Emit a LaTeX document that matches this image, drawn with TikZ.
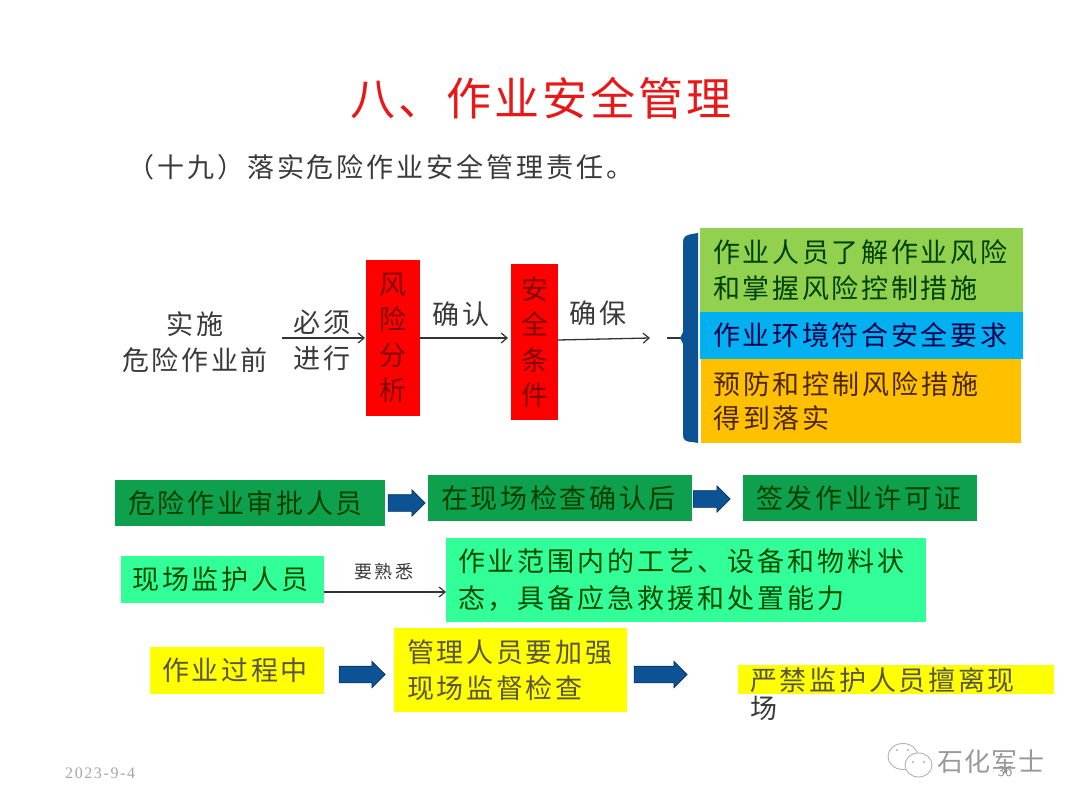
\documentclass[tikz,border=0pt]{standalone}
\usepackage{fontspec}
\usetikzlibrary{arrows.meta,shapes.arrows}
\setmainfont{Liberation Serif}
\newfontfamily\cjk{Noto Sans CJK SC}
\newcommand{\sz}[2]{\fontsize{#1}{#2}\selectfont\cjk}
\newcommand{\ls}[1]{\addfontfeature{LetterSpace=#1}}
\definecolor{txtgray}{HTML}{3A3A3A}
\definecolor{titlered}{HTML}{E81818}
\definecolor{gGreen}{HTML}{92D050}
\definecolor{gBlue}{HTML}{00B0F0}
\definecolor{gOrange}{HTML}{FFC000}
\definecolor{gDark}{HTML}{0FA04E}
\definecolor{gMint}{HTML}{33FF99}
\definecolor{gYellow}{HTML}{FFFF00}
\definecolor{gRed}{HTML}{FF0000}
\definecolor{barblue}{HTML}{0B5394}
\definecolor{arrowedge}{HTML}{0A2F55}
\tikzset{
  x=1pt,y=-1pt,
  box/.style={inner sep=0pt,outer sep=0pt,align=left,anchor=center,text=txtgray},
  plain/.style={inner sep=0pt,outer sep=0pt,text=txtgray,align=center,font=\sz{27}{36}\ls{10}},
  conn/.style={draw=black!80,line width=1.3pt,-{Straight Barb[length=6pt,width=10pt,line width=1.2pt]}},
  blockarrow/.style={shape=single arrow,fill=barblue,draw=arrowedge,line width=.6pt,inner xsep=0pt,inner ysep=8pt,outer sep=0pt,
    single arrow head extend=5pt,single arrow head indent=0pt},
}
\begin{document}
\begin{tikzpicture}
\useasboundingbox (0,0) rectangle (1080,810);
\fill[white] (0,0) rectangle (1080,810);
% title
\node[inner sep=0pt,text=titlered,font=\sz{45}{50}\ls{6.5}] (title) at (541,98) {八、作业安全管理};
\node[inner sep=0pt,anchor=west,text=txtgray,font=\sz{27}{30}\ls{11}] (sub) at (127,167) {（十九）落实危险作业安全管理责任。};
% top flow
\node[plain] (pre) at (195,342) {实施\\危险作业前};
\node[box,fill=gRed,minimum width=54pt,minimum height=156pt,align=center,text=red!50!black,font=\sz{27}{35.5}] (risk) at (393,338) {风\\险\\分\\析};
\node[box,fill=gRed,minimum width=47pt,minimum height=156pt,align=center,text=red!50!black,font=\sz{27}{35.5}] (cond) at (534.5,342) {安\\全\\条\\件};
\node[plain] (must) at (322,340) {必须\\进行};
\node[plain] (confirm) at (461,314) {确认};
\node[plain] (ensure) at (598,313) {确保};
\coordinate (bracetip) at (667,338);
\coordinate (bracemid) at (683,338);
\draw[conn,shorten <=14pt,shorten >=1pt] (pre.east |- risk.west) -- (risk.west);
\draw[conn,shorten >=3pt] (risk.east) -- (cond.west |- risk.east);
\coordinate (ensureend) at (650,338);
\draw[conn] (cond.east |- 0,340) -- (ensureend);
% brace
\draw[black!80,line width=1.3pt] (bracetip) -- (bracemid);
\fill[barblue] (698,233) -- (692,234) .. controls (686,235) and (683,237) .. (683,242) -- (683,332) -- (680,338) -- (683,344)
  -- (683,435) .. controls (683,440) and (686,442) .. (692,442) -- (698,443) -- cycle;
% right stack
\node[box,fill=gGreen,minimum width=323pt,minimum height=84pt,text width=297pt,text=green!25!black,font=\sz{27}{36}\ls{10}] (g1) at (861.5,270) {作业人员了解作业风险\\和掌握风险控制措施};
\node[box,fill=gBlue,minimum width=323pt,minimum height=47pt,text width=297pt,text=blue!30!black,font=\sz{27}{36}\ls{10}] (g2) at (861.5,335.5) {作业环境符合安全要求};
\node[box,fill=gOrange,minimum width=320pt,minimum height=84pt,text width=295pt,text=orange!30!black,font=\sz{27}{34}\ls{10}] (g3) at (861,401) {预防和控制风险措施\\得到落实};
% row 2
\node[box,fill=gDark,minimum width=270pt,minimum height=46pt,text width=244pt,text=green!25!black,font=\sz{27}{36}\ls{10}] (r1) at (250,503) {危险作业审批人员};
\node[box,fill=gDark,minimum width=264pt,minimum height=46pt,text width=238pt,text=green!25!black,font=\sz{27}{36}\ls{10}] (r2) at (560,498) {在现场检查确认后};
\node[box,fill=gDark,minimum width=234pt,minimum height=46pt,text width=208pt,text=green!25!black,font=\sz{27}{36}\ls{10}] (r3) at (860,498) {签发作业许可证};
\node[blockarrow,minimum height=37pt] (a1) at (402.5,503) {};
\node[blockarrow,minimum height=37pt] (a2) at (707.5,499) {};
% row 3
\node[box,fill=gMint,minimum width=203pt,minimum height=47pt,text width=180pt,text=green!30!black,font=\sz{27}{36}\ls{10}] (m1) at (222.5,579.5) {现场监护人员};
\node[box,fill=gMint,minimum width=480pt,minimum height=84pt,text width=456pt,text=green!30!black,font=\sz{27}{37}\ls{11}] (m2) at (686,580) {作业范围内的工艺、设备和物料状\\态，具备应急救援和处置能力};
\node[inner sep=0pt,text=txtgray,font=\sz{18}{20}\ls{12}] (fam) at (384,572) {要熟悉};
\draw[conn] (m1.east |- 0,592) -- (m2.west |- 0,592);
% row 4
\node[box,fill=gYellow,minimum width=174pt,minimum height=47pt,text width=150pt,text=yellow!25!black,font=\sz{27}{36}\ls{10}] (y1) at (237,670.5) {作业过程中};
\node[box,fill=gYellow,minimum width=233pt,minimum height=84pt,text width=207pt,text=yellow!25!black,font=\sz{27}{36}\ls{10}] (y2) at (510.5,670) {管理人员要加强\\现场监督检查};
\fill[gYellow] (738,665) rectangle (1054,694);
\node[inner sep=0pt,anchor=north west,text width=275pt,align=left,text=yellow!25!black,font=\sz{27}{28}\ls{10}] (y3) at (750,667) {严禁监护人员擅离现\\\textcolor{txtgray}{场}};
\node[blockarrow,minimum height=46pt] (a3) at (358,674.5) {};
\node[blockarrow,minimum height=53pt] (a4) at (656.5,674.5) {};
% footer
\node[inner sep=0pt,anchor=west,text=black!35,font=\fontsize{16}{18}\selectfont\addfontfeature{LetterSpace=10}] (date) at (65,773) {2023-9-4};
% watermark
\draw[black!30,fill=white,line width=.9pt] (903,756.5) ellipse (15 and 13);
\draw[black!30,fill=white,line width=.9pt] (918.5,765) ellipse (13.5 and 12);
\fill[black!30] (897,750) circle (1.2) (908,750) circle (1.2) (913,762) circle (1.2) (924,762) circle (1.2);
\node[inner sep=0pt,text=black!40,font=\sz{26}{28}\ls{3}] (mark) at (991,762) {石化军士};
\node[inner sep=0pt,text=black!45,font=\fontsize{15}{18}\selectfont\sffamily] (page) at (1005,772) {36};
\end{tikzpicture}
\end{document}
